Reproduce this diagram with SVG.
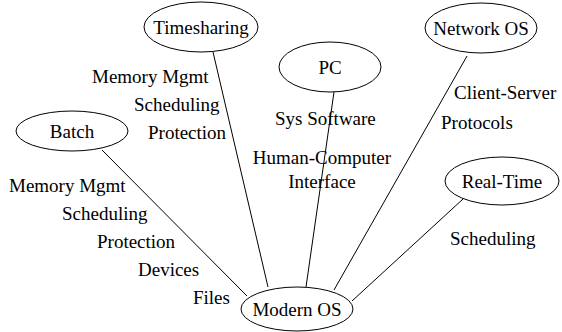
<svg xmlns="http://www.w3.org/2000/svg" width="562" height="332" viewBox="0 0 562 332" font-family="'Liberation Serif', 'Times New Roman', Times, 'DejaVu Serif', serif">
<style>
  .node ellipse { fill: none; stroke: #000; stroke-width: 1; }
  text { font-family: 'Liberation Serif', 'Times New Roman', Times, 'DejaVu Serif', serif; font-size: 19px; fill: #000; }
  .nl { text-anchor: middle; }
  .edges line { stroke: #000; stroke-width: 1; }
</style>
<rect width="562" height="332" fill="#fff"/>
<g id="edges" class="edges">
  <line x1="102" y1="150" x2="247" y2="296"/>
  <line x1="213" y1="52" x2="268" y2="287"/>
  <line x1="334" y1="92" x2="306" y2="287"/>
  <line x1="467" y1="56" x2="334" y2="290"/>
  <line x1="463" y1="199" x2="352" y2="301"/>
</g>
<g id="edge-labels">
  <text x="92" y="83">Memory Mgmt</text>
  <text x="134" y="111">Scheduling</text>
  <text x="148" y="139">Protection</text>
  <text x="275" y="125">Sys Software</text>
  <text x="322" y="164" class="nl">Human-Computer</text>
  <text x="322" y="188" class="nl">Interface</text>
  <text x="454" y="99">Client-Server</text>
  <text x="441" y="129">Protocols</text>
  <text x="9" y="192">Memory Mgmt</text>
  <text x="62" y="220">Scheduling</text>
  <text x="97" y="248">Protection</text>
  <text x="138" y="276">Devices</text>
  <text x="193" y="304">Files</text>
  <text x="450" y="245">Scheduling</text>
</g>
<g id="timesharing" class="node"><ellipse cx="201" cy="27" rx="57" ry="25"/><text x="201" y="33.5" class="nl">Timesharing</text></g>
<g id="pc" class="node"><ellipse cx="330" cy="67" rx="51" ry="25"/><text x="330" y="73.5" class="nl">PC</text></g>
<g id="network-os" class="node"><ellipse cx="481" cy="28" rx="56" ry="25"/><text x="481" y="34.5" class="nl">Network OS</text></g>
<g id="batch" class="node"><ellipse cx="72" cy="131" rx="56" ry="20"/><text x="72" y="137.5" class="nl">Batch</text></g>
<g id="real-time" class="node"><ellipse cx="502" cy="181" rx="57" ry="24"/><text x="502" y="187.5" class="nl">Real-Time</text></g>
<g id="modern-os" class="node"><ellipse cx="297" cy="309" rx="56" ry="22"/><text x="297" y="315.5" class="nl">Modern OS</text></g>
</svg>
